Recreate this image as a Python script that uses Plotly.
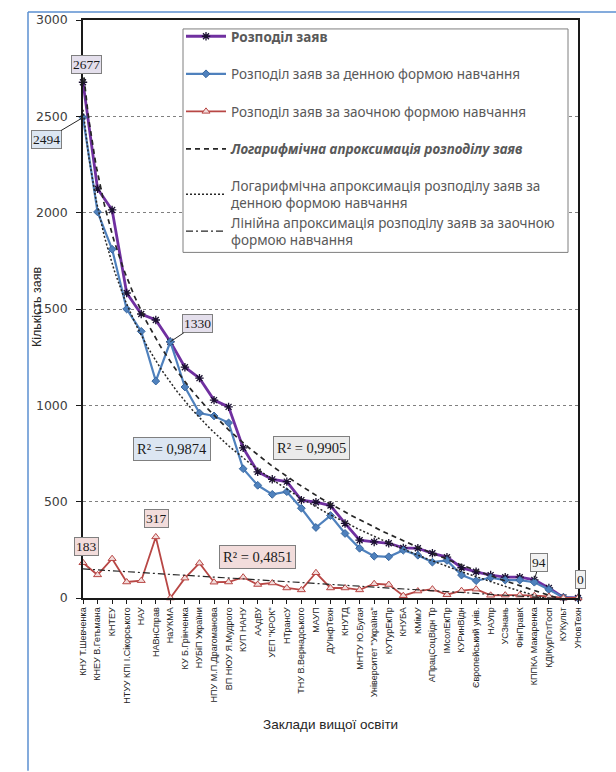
import numpy as np
import plotly.graph_objects as go

# Higher-education institutions (x-axis categories)
institutions = [
    "КНУ Т.Шевченка", "КНЕУ В.Гетьмана", "КНТЕУ", "НТУУ КПІ І.Сікорського", "НАУ",
    "НАВнСправ", "НаУКМА", "КУ Б.Грінченка", "НУБіП України", "НПУ М.П.Драгоманова",
    "ВП НЮУ Я.Мудрого", "КУП НАНУ", "ААдВУ", "УЕП \"КРОК\"", "НТрансУ",
    "ТНУ В.Вернадського", "МАУП", "ДУІнфТехн", "КНУТД", "МНТУ Ю.Бугая",
    "Університет \"Україна\"", "КУТурЕкПр", "КНУБА", "КМімУ", "АПрацСоцВідн Тр",
    "ІМсолЕкПр", "КУРинВідн", "Європейський унів.", "НАУпр", "УСЗнань",
    "ФінПравК", "КППКА Макаренка", "КДІКурГотГосп", "КУКульт", "УНовТехн",
]

# Applications: total, full-time (day) and extramural
total_apps = [2677, 2124, 2014, 1583, 1474, 1443, 1330, 1198, 1141, 1027,
              992, 779, 655, 616, 604, 508, 497, 480, 387, 300,
              291, 284, 260, 258, 232, 212, 157, 136, 119, 108,
              108, 94, 52, 3, 0]
day_apps = [2494, 2004, 1810, 1500, 1384, 1126, 1330, 1095, 960, 945,
            909, 671, 585, 538, 552, 466, 366, 428, 335, 258,
            217, 214, 248, 222, 186, 195, 119, 90, 105, 93,
            93, 82, 44, 3, 0]
extramural_apps = [183, 120, 204, 83, 90, 317, 0, 103, 181, 82,
                   83, 108, 70, 78, 52, 42, 131, 52, 52, 42,
                   74, 70, 12, 36, 46, 17, 38, 46, 14, 15,
                   15, 12, 8, 0, 0]

r2_labels = {"total": "R² = 0,9905", "day": "R² = 0,9874", "extramural": "R² = 0,4851"}

legend_names = [
    "<b>Розподіл заяв</b>",
    "Розподіл заяв за денною формою навчання",
    "Розподіл заяв за заочною формою навчання",
    "<b><i>Логарифмічна апроксимація розподілу заяв</i></b>",
    "Логарифмічна апроксимація розподілу заяв за<br>денною формою навчання",
    "Лінійна апроксимація розподілу заяв за заочною<br>формою навчання",
]

n = len(institutions)
pos = np.arange(n)            # category positions on the axis
idx = pos + 1                 # 1-based index used by the trendlines

# Trendline fits
a_tot, b_tot = np.polyfit(np.log(idx), total_apps, 1)
a_day, b_day = np.polyfit(np.log(idx), day_apps, 1)
a_ext, b_ext = np.polyfit(idx, extramural_apps, 1)
fine = np.linspace(1, n, 400)

NARROW = "Liberation Sans Narrow, Arial Narrow, Liberation Sans, sans-serif"
LEG = "Noto Sans, Liberation Sans, sans-serif"
SERIF = "Liberation Serif, DejaVu Serif, serif"

# Plot-area geometry in pixels
W, H = 616, 772
L, R, T, B = 83, 38, 16, 174
PW, PH = W - L - R, H - T - B


def px_x(px):
    return (px - L) / PW


def px_y(py):
    return (H - B - py) / PH


fig = go.Figure()

fig.add_trace(go.Scatter(
    x=pos, y=total_apps, mode="lines+markers", name=legend_names[0],
    line=dict(color="#7030a0", width=2.8),
    marker=dict(symbol="asterisk-open", size=7, color="#1a1030",
                line=dict(color="#1a1030", width=1.3)),
    cliponaxis=False, legendgroup="g1", legend="legend"))
fig.add_trace(go.Scatter(
    x=pos, y=day_apps, mode="lines+markers", name=legend_names[1],
    line=dict(color="#4f81bd", width=2.2),
    marker=dict(symbol="diamond", size=6, color="#4f81bd",
                line=dict(color="#38679e", width=1)),
    cliponaxis=False, legendgroup="g2", legend="legend"))
fig.add_trace(go.Scatter(
    x=pos, y=extramural_apps, mode="lines+markers", name=legend_names[2],
    line=dict(color="#b84745", width=1.8),
    marker=dict(symbol="triangle-up", size=7, color="#f2dcdb",
                line=dict(color="#b84745", width=1)),
    cliponaxis=False, legendgroup="g3", legend="legend"))

fig.add_trace(go.Scatter(
    x=fine - 1, y=a_tot * np.log(fine) + b_tot, mode="lines", name=legend_names[3],
    line=dict(color="#262626", width=1.7, dash="5px,4px"),
    legendgroup="g4", legend="legend"))
fig.add_trace(go.Scatter(
    x=fine - 1, y=a_day * np.log(fine) + b_day, mode="lines", name=legend_names[4],
    line=dict(color="#262626", width=1.5, dash="2px,2px"),
    legendgroup="g5", legend="legend2"))
fig.add_trace(go.Scatter(
    x=fine - 1, y=a_ext * fine + b_ext, mode="lines", name=legend_names[5],
    line=dict(color="#262626", width=1.2, dash="7px,3px,2px,3px"),
    legendgroup="g6", legend="legend3"))


def value_label(i, series, fill, ax, ay, leader=True):
    fig.add_annotation(
        x=pos[i], y=series[i], text=str(series[i]),
        showarrow=True, arrowhead=0, arrowwidth=1,
        arrowcolor="#262626" if leader else "rgba(0,0,0,0)",
        ax=ax, ay=ay, bgcolor=fill, bordercolor="#7f7f7f", borderwidth=1,
        borderpad=1, font=dict(family=SERIF, size=13.5, color="#1a1a1a"))


value_label(0, total_apps, "#e4dfec", 3, -18, leader=False)
value_label(0, day_apps, "#dce6f2", -37, 22)
value_label(0, extramural_apps, "#f2dcdb", 3, -16, leader=False)
value_label(5, extramural_apps, "#f2dcdb", 1, -18, leader=False)
value_label(6, total_apps, "#e4dfec", 27, -18)
value_label(31, total_apps, "#f2f2f2", 5, -17)
value_label(34, total_apps, "#f2f2f2", 2, -19, leader=False)


def r2_label(x, y, text, fill):
    fig.add_annotation(
        x=x, y=y, text=text, showarrow=False, bgcolor=fill,
        bordercolor="#7f7f7f", borderwidth=1, borderpad=3,
        font=dict(family=SERIF, size=14.5, color="#1a1a1a"))


r2_label(6.1, 775, r2_labels["day"], "#dce6f2")
r2_label(15.7, 780, r2_labels["total"], "#ebebeb")
r2_label(12.0, 211, r2_labels["extramural"], "#f2dcdb")

# Axis titles
fig.add_annotation(
    xref="paper", yref="paper", x=px_x(37), y=px_y(305), xanchor="center",
    yanchor="middle", text="Кількість заяв", textangle=-90, showarrow=False,
    font=dict(family=NARROW, size=12.5, color="#262626"))
fig.add_annotation(
    xref="paper", yref="paper", x=0.5, y=px_y(725), xanchor="center",
    yanchor="middle", text="Заклади вищої освіти", showarrow=False,
    font=dict(family=NARROW, size=13.5, color="#262626"))

# Blue frame on the left and top
fig.add_shape(type="line", xref="paper", yref="paper", x0=px_x(28), x1=px_x(28),
              y0=px_y(772), y1=px_y(8), line=dict(color="#5b8fd0", width=1.5))
fig.add_shape(type="line", xref="paper", yref="paper", x0=px_x(28), x1=px_x(620),
              y0=px_y(8), y1=px_y(8), line=dict(color="#5b8fd0", width=1.5))

# Legend frame (white, above the plotted lines)
fig.add_shape(type="rect", xref="paper", yref="paper", layer="above",
              x0=px_x(183), x1=px_x(568), y0=px_y(250), y1=px_y(25),
              fillcolor="white", line=dict(color="#7f7f7f", width=1))

legend_common = dict(
    xanchor="left", bgcolor="rgba(0,0,0,0)", borderwidth=0,
    font=dict(family=LEG, size=13.5, color="#595959"),
    itemwidth=40, traceorder="grouped",
)

fig.update_layout(
    width=W, height=H,
    margin=dict(l=L, r=R, t=T, b=B),
    paper_bgcolor="white", plot_bgcolor="white",
    showlegend=True,
    legend=dict(x=px_x(181), y=px_y(17), yanchor="top", tracegroupgap=17,
                **legend_common),
    legend2=dict(x=px_x(181), y=px_y(192), yanchor="middle", **legend_common),
    legend3=dict(x=px_x(181), y=px_y(229), yanchor="middle", **legend_common),
    xaxis=dict(
        range=[0, n - 1], tickvals=list(pos), ticktext=institutions,
        tickangle=-90, tickfont=dict(family=NARROW, size=9, color="#262626"),
        showline=True, linecolor="#1a1a1a", linewidth=1.5, mirror=True,
        ticks="outside", ticklen=4, tickcolor="#1a1a1a",
        showgrid=False, zeroline=False,
    ),
    yaxis=dict(
        range=[0, 3000], dtick=500,
        tickfont=dict(family="DejaVu Sans, Verdana, sans-serif", size=12.5, color="#404040"),
        showline=True, linecolor="#1a1a1a", linewidth=1.5, mirror=True,
        ticks="outside", ticklen=5, tickcolor="#1a1a1a", ticklabelstandoff=6,
        showgrid=True, gridcolor="#808080", gridwidth=1, griddash="dot",
        zeroline=False,
    ),
)

fig.write_html("out.html")
